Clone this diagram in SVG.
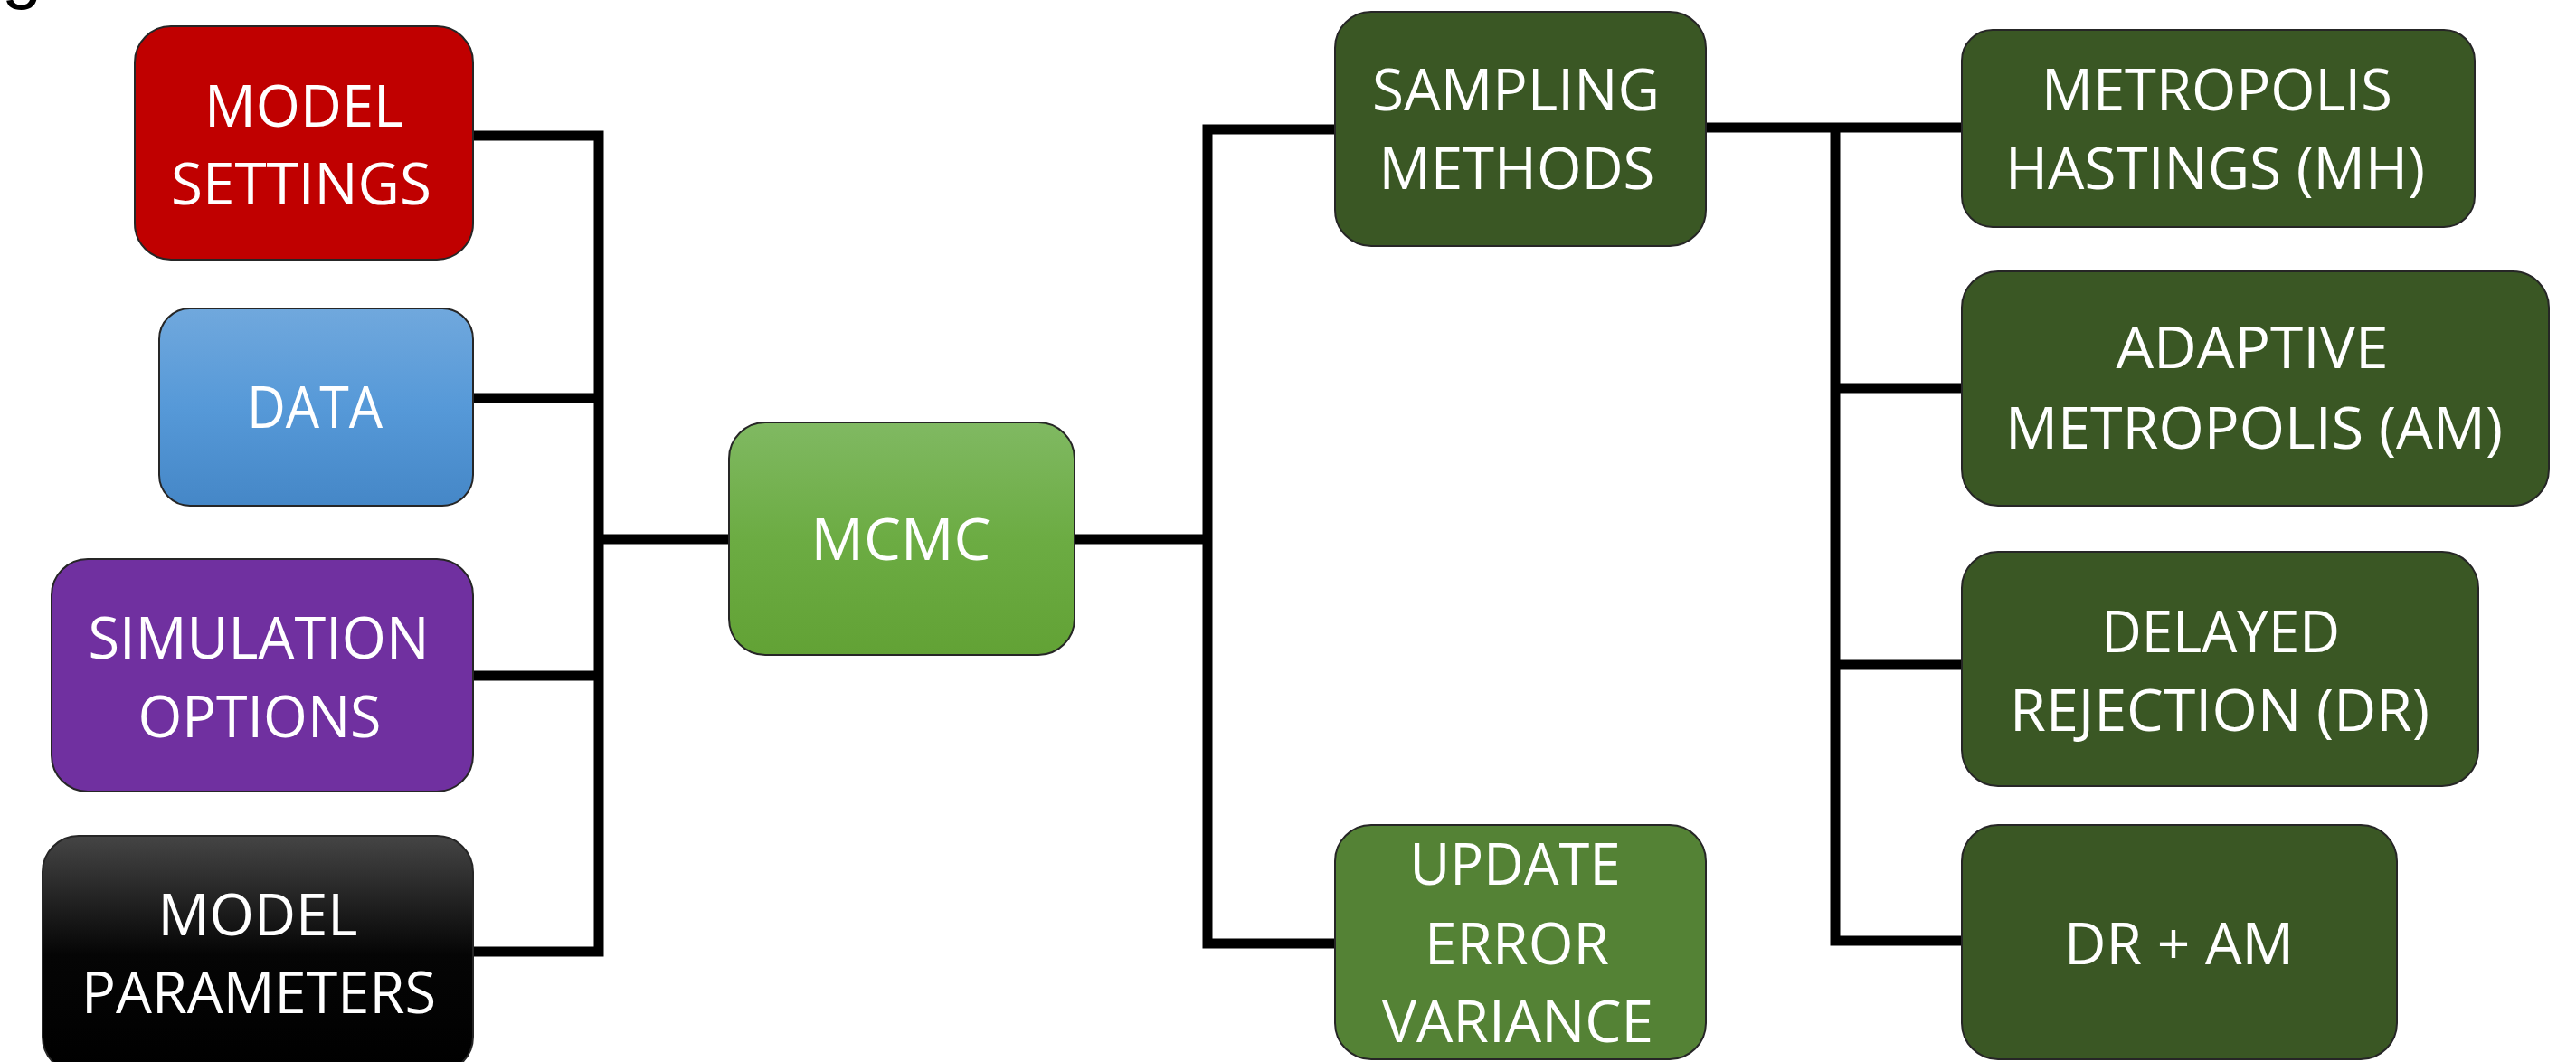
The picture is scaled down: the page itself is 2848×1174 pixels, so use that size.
<svg xmlns="http://www.w3.org/2000/svg" width="2848" height="1174" viewBox="0 0 2848 1174">
  <style>
    .box { stroke: #262626; stroke-width: 2; }
    .lbl { font-family: "Open Sans", "Liberation Sans", sans-serif; font-size: 64px; fill: #ffffff; text-anchor: middle; }
    .wire { fill: none; stroke: #000000; stroke-width: 11; stroke-linecap: butt; stroke-linejoin: miter; }
    .red { fill: #c00000; }
    .purple { fill: #7030a0; }
    .dark { fill: #3a5724; }
    .mid { fill: #548235; }
  </style>
  <defs>
    <linearGradient id="gBlue" x1="0" y1="0" x2="0" y2="1">
      <stop offset="0" stop-color="#70a8dd"/>
      <stop offset="0.5" stop-color="#5699d8"/>
      <stop offset="1" stop-color="#4587c7"/>
    </linearGradient>
    <linearGradient id="gBlack" x1="0" y1="0" x2="0" y2="1">
      <stop offset="0" stop-color="#454545"/>
      <stop offset="0.5" stop-color="#050505"/>
      <stop offset="1" stop-color="#000000"/>
    </linearGradient>
    <linearGradient id="gGreen" x1="0" y1="0" x2="0" y2="1">
      <stop offset="0" stop-color="#80b962"/>
      <stop offset="0.5" stop-color="#6cac43"/>
      <stop offset="1" stop-color="#62a235"/>
    </linearGradient>
  </defs>

  <!-- cut-off glyph at the top edge -->
  <text x="2" y="-6" font-family="Liberation Sans, sans-serif" font-size="80" fill="#000000">g</text>

  <!-- connectors -->
  <g id="connectors">
    <path class="wire" d="M523 150 H662 V1052 H523"/>
    <path class="wire" d="M523 440 H662"/>
    <path class="wire" d="M523 747 H662"/>
    <path class="wire" d="M662 596 H806"/>
    <path class="wire" d="M1476 143 H1335 V1043 H1476"/>
    <path class="wire" d="M1188 596 H1335"/>
    <path class="wire" d="M1886 141 H2169"/>
    <path class="wire" d="M2029 141 V1040 H2169"/>
    <path class="wire" d="M2029 429 H2169"/>
    <path class="wire" d="M2029 735 H2169"/>
  </g>

  <g id="model-settings">
    <rect class="box red" x="149" y="29" width="374" height="258" rx="40"/>
    <text class="lbl" x="336" y="140" textLength="220" lengthAdjust="spacingAndGlyphs">MODEL</text>
    <text class="lbl" x="333" y="226" textLength="288" lengthAdjust="spacingAndGlyphs">SETTINGS</text>
  </g>

  <g id="data">
    <rect class="box" fill="url(#gBlue)" x="176" y="341" width="347" height="218" rx="34"/>
    <text class="lbl" x="348" y="473" textLength="150" lengthAdjust="spacingAndGlyphs">DATA</text>
  </g>

  <g id="simulation-options">
    <rect class="box purple" x="57" y="618" width="466" height="257" rx="40"/>
    <text class="lbl" x="286" y="728" textLength="377" lengthAdjust="spacingAndGlyphs">SIMULATION</text>
    <text class="lbl" x="287" y="815" textLength="269" lengthAdjust="spacingAndGlyphs">OPTIONS</text>
  </g>

  <g id="model-parameters">
    <rect class="box" fill="url(#gBlack)" x="47" y="924" width="476" height="262" rx="40"/>
    <text class="lbl" x="285" y="1034" textLength="221" lengthAdjust="spacingAndGlyphs">MODEL</text>
    <text class="lbl" x="286" y="1120" textLength="392" lengthAdjust="spacingAndGlyphs">PARAMETERS</text>
  </g>

  <g id="mcmc">
    <rect class="box" fill="url(#gGreen)" x="806" y="467" width="382" height="257" rx="40"/>
    <text class="lbl" x="996" y="619" textLength="199" lengthAdjust="spacingAndGlyphs">MCMC</text>
  </g>

  <g id="sampling-methods">
    <rect class="box dark" x="1476" y="13" width="410" height="259" rx="40"/>
    <text class="lbl" x="1676" y="122" textLength="318" lengthAdjust="spacingAndGlyphs">SAMPLING</text>
    <text class="lbl" x="1677" y="209" textLength="305" lengthAdjust="spacingAndGlyphs">METHODS</text>
  </g>

  <g id="update-error-variance">
    <rect class="box mid" x="1476" y="912" width="410" height="259" rx="40"/>
    <text class="lbl" x="1675" y="978" textLength="233" lengthAdjust="spacingAndGlyphs">UPDATE</text>
    <text class="lbl" x="1677" y="1066" textLength="204" lengthAdjust="spacingAndGlyphs">ERROR</text>
    <text class="lbl" x="1678" y="1152" textLength="300" lengthAdjust="spacingAndGlyphs">VARIANCE</text>
  </g>

  <g id="metropolis-hastings">
    <rect class="box dark" x="2169" y="33" width="567" height="218" rx="34"/>
    <text class="lbl" x="2451" y="122" textLength="388" lengthAdjust="spacingAndGlyphs">METROPOLIS</text>
    <text class="lbl" x="2449" y="209" textLength="464" lengthAdjust="spacingAndGlyphs">HASTINGS (MH)</text>
  </g>

  <g id="adaptive-metropolis">
    <rect class="box dark" x="2169" y="300" width="649" height="259" rx="40"/>
    <text class="lbl" x="2490" y="407" textLength="301" lengthAdjust="spacingAndGlyphs">ADAPTIVE</text>
    <text class="lbl" x="2492" y="496" textLength="550" lengthAdjust="spacingAndGlyphs">METROPOLIS (AM)</text>
  </g>

  <g id="delayed-rejection">
    <rect class="box dark" x="2169" y="610" width="571" height="259" rx="40"/>
    <text class="lbl" x="2455" y="721" textLength="264" lengthAdjust="spacingAndGlyphs">DELAYED</text>
    <text class="lbl" x="2454" y="808" textLength="464" lengthAdjust="spacingAndGlyphs">REJECTION (DR)</text>
  </g>

  <g id="dr-am">
    <rect class="box dark" x="2169" y="912" width="481" height="259" rx="40"/>
    <text class="lbl" x="2409" y="1066" textLength="254" lengthAdjust="spacingAndGlyphs">DR + AM</text>
  </g>
</svg>
